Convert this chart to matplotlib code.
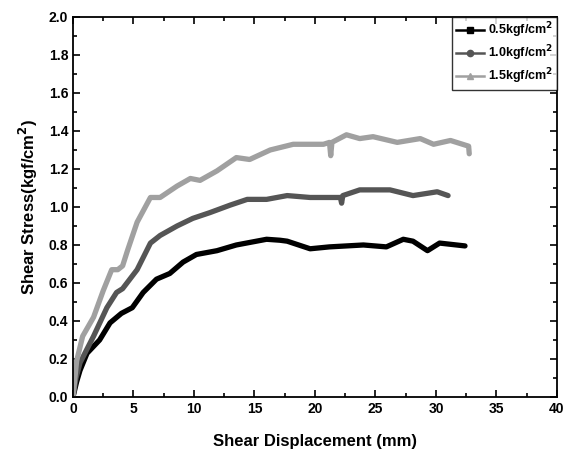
import numpy as np
import matplotlib.pyplot as plt

plt.rcParams['font.family'] = ['Liberation Sans', 'DejaVu Sans']
plt.rcParams['font.weight'] = 'bold'

# shear displacement (mm) / shear stress (kgf/cm2)
x_05 = [0, 0.3, 0.58, 1.16, 2.2, 3.06, 4.0, 4.9, 5.8, 6.9, 8.0, 9.1, 10.2, 11.9,
        13.5, 16.0, 17.1, 17.7, 19.6, 21.2, 24.0, 25.9, 27.3, 28.1, 29.3, 30.3, 32.4]
y_05 = [0, 0.08, 0.14, 0.23, 0.30, 0.39, 0.44, 0.47, 0.55, 0.62, 0.65, 0.71, 0.75, 0.77,
        0.80, 0.83, 0.825, 0.82, 0.78, 0.79, 0.80, 0.79, 0.83, 0.82, 0.77, 0.81, 0.795]

x_10 = [0, 0.25, 0.58, 1.7, 2.8, 3.6, 4.1, 5.3, 6.4, 7.2, 8.6, 9.9, 11.3, 13.0, 14.4,
        16.0, 17.7, 19.6, 22.1, 22.2, 22.3, 23.7, 25.6, 26.2, 28.1, 30.1, 31.0]
y_10 = [0, 0.10, 0.18, 0.32, 0.47, 0.55, 0.57, 0.67, 0.81, 0.85, 0.90, 0.94, 0.97, 1.01, 1.04,
        1.04, 1.06, 1.05, 1.05, 1.02, 1.06, 1.09, 1.09, 1.09, 1.06, 1.08, 1.06]

x_15 = [0, 0.3, 0.8, 1.7, 2.5, 3.2, 3.7, 4.1, 4.5, 5.3, 6.4, 7.2, 8.6, 9.7, 10.5, 11.9,
        13.5, 14.6, 16.3, 18.2, 19.6, 20.7, 21.2, 21.3, 21.4, 22.6, 23.7, 24.8, 26.8,
        28.7, 29.8, 31.2, 32.2, 32.7, 32.75]
y_15 = [0, 0.19, 0.32, 0.42, 0.56, 0.67, 0.67, 0.69, 0.77, 0.92, 1.05, 1.05, 1.11, 1.15, 1.14, 1.19,
        1.26, 1.25, 1.30, 1.33, 1.33, 1.33, 1.34, 1.27, 1.34, 1.38, 1.36, 1.37, 1.34,
        1.36, 1.33, 1.35, 1.33, 1.32, 1.28]

labels = ['0.5kgf/cm$^\\mathbf{2}$', '1.0kgf/cm$^\\mathbf{2}$', '1.5kgf/cm$^\\mathbf{2}$']
colors = ['#000000', '#555555', '#a0a0a0']
markers = ['s', 'o', '^']

fig = plt.figure(figsize=(5.73, 4.54), dpi=100)
ax = fig.add_axes([0.1274, 0.1256, 0.8446, 0.837])

for xs, ys, lab, c, m in zip([x_05, x_10, x_15], [y_05, y_10, y_15], labels, colors, markers):
    ax.plot(xs, ys, color=c, lw=3.8, solid_joinstyle='round', solid_capstyle='round')
    # proxy for the legend (line with a small marker)
    ax.plot([], [], color=c, lw=1.8, marker=m, ms=4.5, label=lab)

ax.set_xlim(0, 40)
ax.set_ylim(0, 2.0)
ax.set_xticks(np.arange(0, 41, 5))
ax.set_yticks(np.arange(0, 2.01, 0.2))
ax.set_yticklabels([f'{v:.1f}' for v in np.arange(0, 2.01, 0.2)])
ax.set_xticks(np.arange(0, 41, 2.5), minor=True)
ax.set_yticks(np.arange(0, 2.01, 0.1), minor=True)
ax.tick_params(which='both', direction='in', top=True, right=True, labelsize=10, width=1.2)
ax.tick_params(which='major', length=5)
ax.tick_params(which='minor', length=3)
for s in ax.spines.values():
    s.set_linewidth(1.3)

ax.set_xlabel('Shear Displacement (mm)', fontsize=12, fontweight='bold', labelpad=13)
ax.set_ylabel('Shear Stress(kgf/cm$^\\mathbf{2}$)', fontsize=12, fontweight='bold', labelpad=6)

leg = ax.legend(loc='upper right', fontsize=9, frameon=True, fancybox=False,
                edgecolor='black', handlelength=2.3, handletextpad=0.3,
                borderaxespad=0, labelspacing=0.25, borderpad=0.3)
leg.get_frame().set_linewidth(1.0)

fig.savefig('out.png', dpi=100)
